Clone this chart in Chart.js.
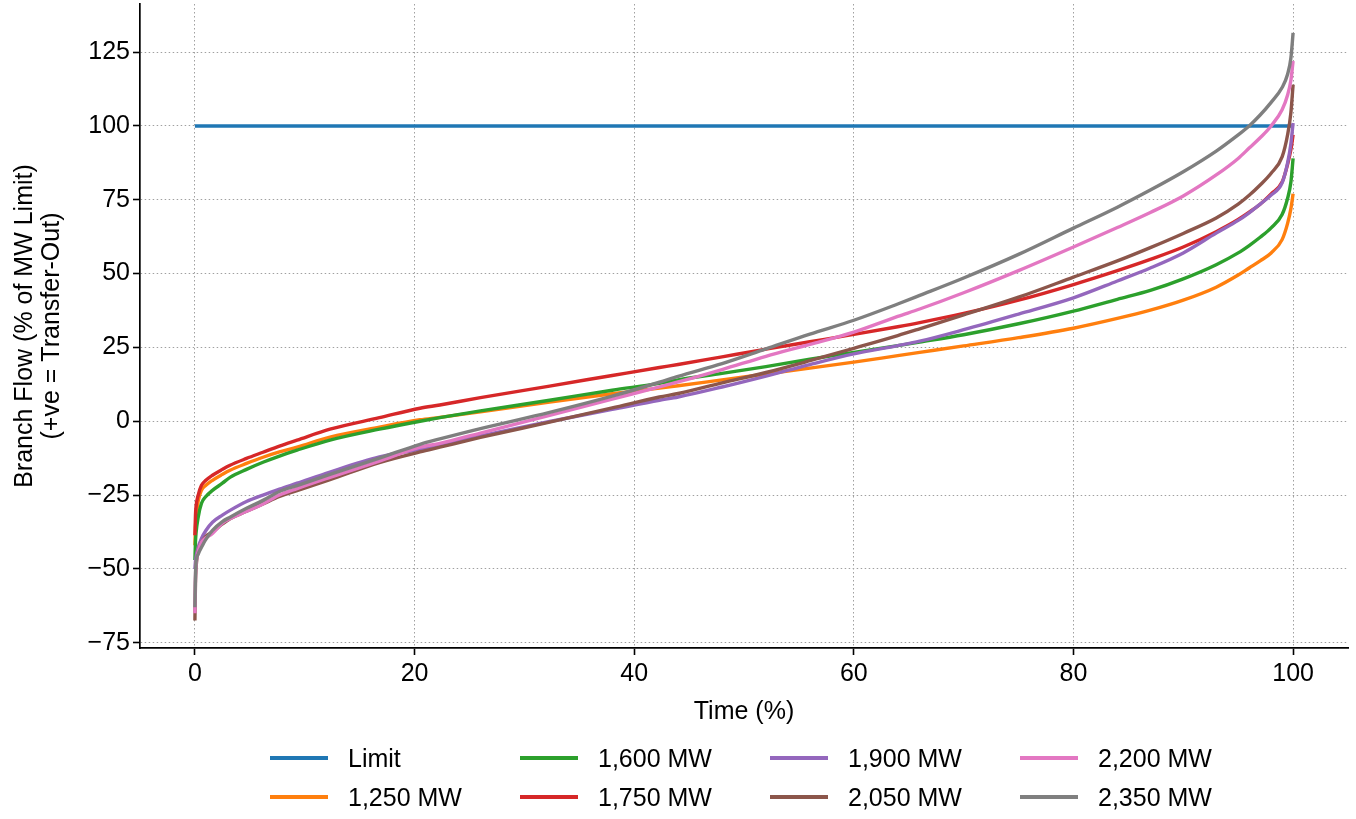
<!DOCTYPE html>
<html><head><meta charset="utf-8">
<script src="https://cdn.jsdelivr.net/npm/chart.js@4"></script>
<style>
html,body{margin:0;padding:0;background:#fff;}
#wrap{position:relative;width:1356px;height:819px;}
#legend{position:absolute;left:0;top:0;width:1356px;height:819px;pointer-events:none;font-family:"Liberation Sans",Arial,sans-serif;font-size:25px;color:#000;}
.item{position:absolute;height:30px;line-height:30px;white-space:nowrap;}
.item .sw{position:absolute;left:0;top:13px;width:58px;height:3.5px;}
.item .tx{position:absolute;left:78px;top:0;}
</style></head>
<body><div id="wrap"><canvas id="c" width="1356" height="819"></canvas><div id="legend"></div></div>
<script>
// ---- data ----
const timePct = [0, 0.05, 0.1, 0.3, 0.6, 1, 1.6, 2.5, 3.2, 4.7, 6.2, 7.7, 9.3, 12.3, 16.8, 20.5, 22.3, 26, 32.3, 38, 42.3, 44, 48, 52, 56, 60, 64, 66, 70, 75, 80, 84, 87, 90, 93, 95, 96, 97, 98, 99, 99.5, 99.8, 100];
const limitX = [0, 100];
const limitY = [100, 100];
const mw1250 = [-42, -36, -33, -27, -23.4, -21.7, -20, -18, -16.6, -14.3, -12.2, -10.4, -8.8, -5.4, -2, 0.5, 1.3, 3.2, 6.5, 9.3, 11.2, 12, 14, 16, 18, 20, 22.2, 23.3, 25.5, 28.3, 31.5, 34.8, 37.6, 41, 45.4, 49.5, 51.9, 54.3, 57, 61.5, 67, 72, 77];
const mw1600 = [-47, -41, -38, -32.5, -27.8, -25.5, -23.4, -21, -19, -16.3, -13.9, -11.8, -9.8, -6.4, -2.7, 0, 1.2, 3.5, 7.1, 10.5, 12.8, 14, 16.2, 18.5, 21, 23.3, 25.6, 26.8, 29.3, 33, 37.3, 41.3, 44.3, 48.2, 53, 57, 59.5, 62.3, 65.5, 70, 75.5, 81, 89];
const mw1750 = [-38.6, -32, -29, -25, -21.7, -20, -18.3, -16.3, -14.9, -12.6, -10.5, -8.4, -6.4, -2.7, 1.2, 4.4, 5.5, 8, 11.9, 15.5, 18.2, 19.2, 21.8, 24.4, 26.9, 29.4, 32, 33.4, 36.5, 41, 46.3, 51, 54.8, 59, 64.2, 68.3, 70.8, 73.5, 77, 81, 87, 92, 97];
const mw1900 = [-50, -47.5, -46, -42.7, -39.7, -37, -34.2, -31.8, -30.2, -27.2, -25, -23, -21, -17.2, -12.1, -9.5, -8, -5, -0.1, 4, 7.1, 8.2, 11.6, 15.3, 19.2, 22.8, 25.6, 27.1, 31, 36.3, 41.8, 47.5, 51.9, 57, 63.7, 68, 70.6, 73.5, 76.6, 80.7, 87.5, 94, 101];
const mw2050 = [-67.5, -55, -50, -44, -41, -39, -37.5, -34.8, -33, -30.5, -28, -25.5, -23.5, -19.8, -14, -10.4, -8.8, -5.5, -0.3, 4.5, 8.2, 9.4, 13, 16.5, 20.5, 24.7, 29, 31.3, 36, 42, 48.8, 54.3, 58.8, 63.6, 68.8, 73.5, 76.5, 80, 84, 89.5, 97, 104.5, 114];
const mw2200 = [-65, -53, -49, -44, -41, -39.5, -38, -34.5, -33, -30.5, -28, -25, -22.8, -19, -13.5, -8.8, -7.5, -4, 2, 7.5, 11.6, 13.3, 17.5, 22, 26, 30.2, 35.5, 38, 43.5, 51, 59, 65.6, 70.7, 76.3, 83.4, 89, 92.5, 96, 100, 105.5, 110.5, 115.5, 122];
const mw2350 = [-63, -52, -48, -45, -42.7, -40, -37, -34, -32.5, -29.5, -26.8, -23.8, -21.8, -18, -12.5, -7.8, -6, -2.5, 3, 8.5, 13.2, 15.2, 19.5, 24.5, 29.5, 34.2, 39.7, 42.6, 48.5, 56.5, 65.4, 72.5, 78.3, 84.5, 91.5, 97, 100, 103.7, 108, 113, 117.5, 123, 131.5];
const seriesLabels = ['Limit', '1,250 MW', '1,600 MW', '1,750 MW', '1,900 MW', '2,050 MW', '2,200 MW', '2,350 MW'];
const seriesColors = ['#1f77b4', '#ff7f0e', '#2ca02c', '#d62728', '#9467bd', '#8c564b', '#e377c2', '#7f7f7f'];
const xTicks = [0, 20, 40, 60, 80, 100];
const yTicks = [-75, -50, -25, 0, 25, 50, 75, 100, 125];
const xTitle = 'Time (%)';
const yTitle = ['Branch Flow (% of MW Limit)', '(+ve = Transfer-Out)'];

// ---- build ----
const FAM = '"Liberation Sans", Arial, sans-serif';
const pts = (xs, ys) => xs.map((x, i) => ({x: x, y: ys[i]}));
const seriesData = [pts(limitX, limitY), pts(timePct, mw1250), pts(timePct, mw1600), pts(timePct, mw1750),
  pts(timePct, mw1900), pts(timePct, mw2050), pts(timePct, mw2200), pts(timePct, mw2350)];
const datasets = seriesData.map((d, i) => ({
  label: seriesLabels[i], data: d, borderColor: seriesColors[i], backgroundColor: seriesColors[i],
  borderWidth: 3.4, pointRadius: 0, fill: false, cubicInterpolationMode: 'monotone',
  order: seriesData.length - i
}));
const fmt = v => (v < 0 ? '\u2212' + Math.abs(v) : String(v));

new Chart(document.getElementById('c').getContext('2d'), {
  type: 'line',
  data: {datasets: datasets},
  options: {
    responsive: false, animation: false, devicePixelRatio: 1,
    layout: {autoPadding: false, padding: {left: 0, right: 8, top: 4, bottom: 0}},
    plugins: {legend: {display: false}, tooltip: {enabled: false}},
    scales: {
      x: {
        type: 'linear', min: -5, max: 105,
        afterBuildTicks: s => { s.ticks = xTicks.map(v => ({value: v})); },
        afterFit: s => { s.height = 171; s.paddingLeft = 0; s.paddingRight = 0; },
        grid: {color: '#a0a0a0', lineWidth: 1, tickColor: '#000', tickWidth: 1.6, tickLength: 7},
        border: {display: true, color: '#000', width: 1.7, dash: [1.5, 2.5]},
        ticks: {font: {family: FAM, size: 25}, color: '#000', padding: 4, maxRotation: 0, autoSkip: false, callback: v => fmt(v)},
        title: {display: true, text: xTitle, color: '#000', font: {family: FAM, size: 25, lineHeight: 1.2}, padding: {top: 0, bottom: 92}}
      },
      y: {
        type: 'linear', min: -76.8, max: 141.3,
        afterBuildTicks: s => { s.ticks = yTicks.map(v => ({value: v})); },
        afterFit: s => { s.width = 140; s.paddingTop = 0; s.paddingBottom = 0; },
        grid: {color: '#a0a0a0', lineWidth: 1, tickColor: '#000', tickWidth: 1.6, tickLength: 7},
        border: {display: true, color: '#000', width: 1.7, dash: [1.5, 2.5]},
        ticks: {font: {family: FAM, size: 25}, color: '#000', padding: 3, autoSkip: false, callback: v => fmt(v)},
        title: {display: true, text: yTitle, color: '#000', font: {family: FAM, size: 25, lineHeight: 1.1}, padding: {top: 11, bottom: 0}}
      }
    }
  }
});

// legend (matplotlib ncol=4, filled column-wise)
const leg = document.getElementById('legend');
datasets.forEach((ds, i) => {
  const col = Math.floor(i / 2), row = i % 2;
  const it = document.createElement('div');
  it.className = 'item';
  it.style.left = (270 + col * 250) + 'px';
  it.style.top = (743 + row * 39) + 'px';
  const sw = document.createElement('div'); sw.className = 'sw'; sw.style.background = ds.borderColor;
  const tx = document.createElement('div'); tx.className = 'tx'; tx.textContent = ds.label;
  it.appendChild(sw); it.appendChild(tx); leg.appendChild(it);
});
</script>
</body></html>
